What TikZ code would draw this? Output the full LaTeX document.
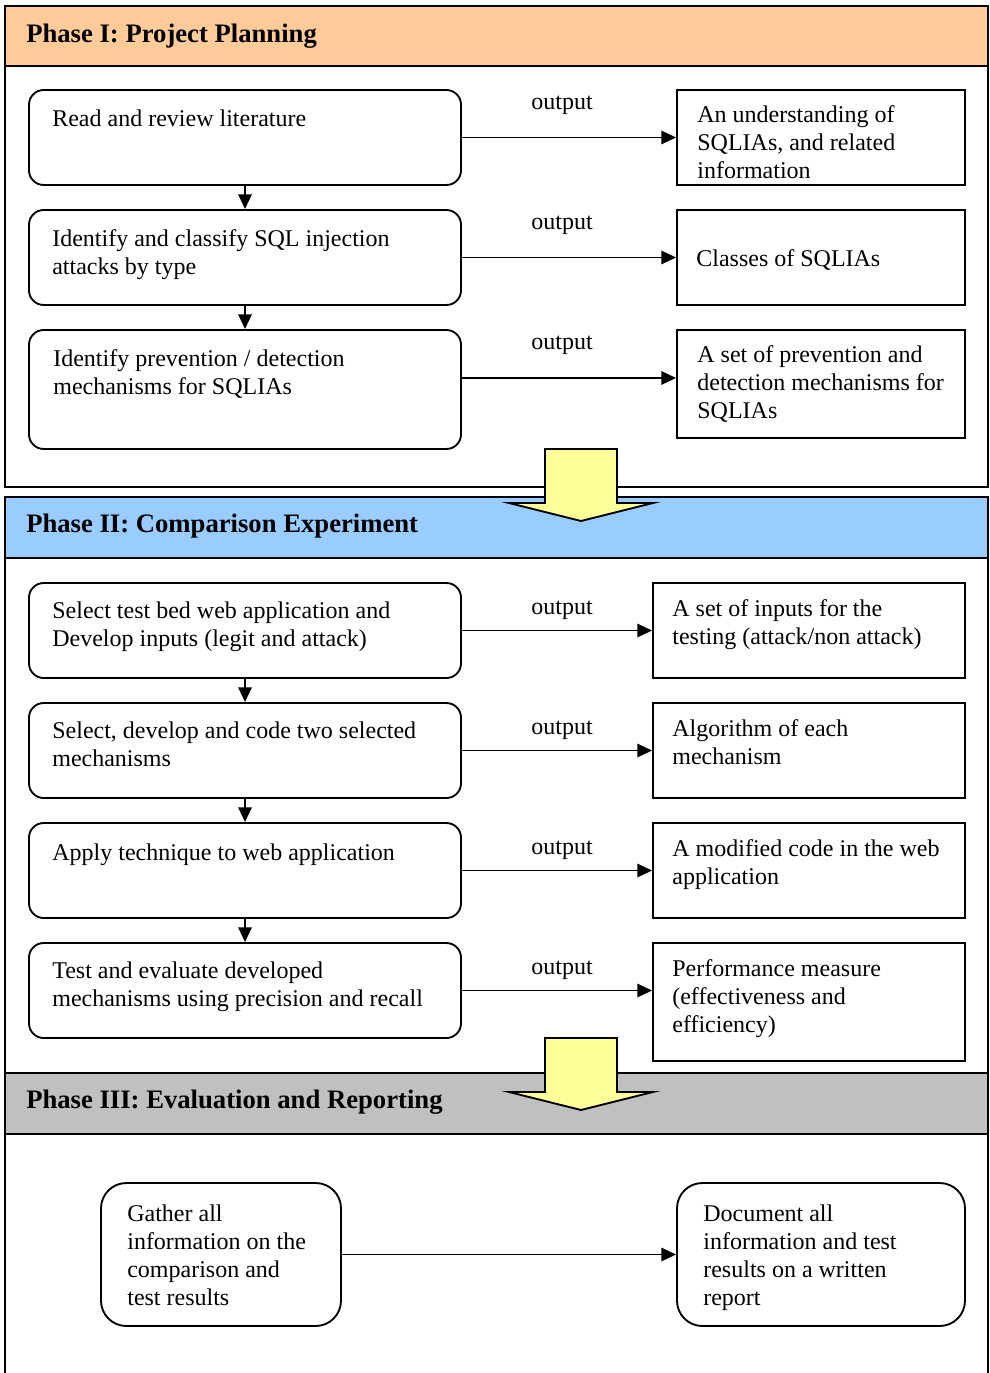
\documentclass[tikz,border=0pt]{standalone}
\usepackage{fontspec}
\setmainfont{Liberation Serif}
\usepackage{tikz}
\usetikzlibrary{arrows.meta, positioning, calc}
\definecolor{phaseone}{HTML}{FFCC99}
\definecolor{phasetwo}{HTML}{99CCFF}
\definecolor{phasethree}{HTML}{C0C0C0}
\definecolor{blockfill}{HTML}{FFFF99}
\tikzset{
  phasebox/.style = {draw=black, line width=1.4pt},
  phasettl/.style = {font=\bfseries\fontsize{20}{24}\selectfont, anchor=west,
                     inner sep=0pt},
  taskbox/.style  = {draw=black, line width=1.4pt, rounded corners=11pt,
                     minimum width=324pt, minimum height=71.25pt, inner sep=0pt},
  endbox/.style   = {taskbox, rounded corners=19pt, minimum width=180pt,
                     minimum height=107.25pt},
  outbox/.style   = {draw=black, line width=1.4pt, minimum width=216pt,
                     minimum height=71.25pt, inner sep=0pt},
  outboxw/.style  = {outbox, minimum width=234pt},
  boxtxt/.style   = {anchor=north west, align=left, inner sep=0pt,
                     font=\fontsize{18}{21}\selectfont,
                     execute at begin node=\strut},
  outlbl/.style   = {font=\fontsize{18}{21}\selectfont, inner sep=0pt},
  flow/.style     = {draw=black, line width=1.4pt,
                     -{Triangle[length=11pt, width=10pt]}},
  blockarr/.style = {draw=black, line width=1.4pt, fill=blockfill,
                     line join=miter},
}
\begin{document}
\begin{tikzpicture}[x=0.75pt, y=-0.75pt]
  \useasboundingbox (0,0) rectangle (989,1373);

  % phase panels
  \draw[phasebox] (5,6) rectangle (988,487);
  \draw[phasebox, fill=phaseone] (5,6) rectangle (988,66);
  \node[phasettl] (h1) at (26,36) {Phase I: Project Planning};

  \draw[phasebox] (5,497) rectangle (988,1073);
  \draw[phasebox, fill=phasetwo] (5,497) rectangle (988,558);
  \node[phasettl] (h2) at (26,526) {Phase II: Comparison Experiment};

  \draw[phasebox] (5,1373) -- (5,1073) -- (988,1073) -- (988,1373);
  \draw[phasebox, fill=phasethree] (5,1073) rectangle (988,1134);
  \node[phasettl] (h3) at (26,1102) {Phase III: Evaluation and Reporting};

  % big arrows between phases
  \draw[blockarr] (545,449) -- (617,449) -- (617,503) -- (653,503)
        -- (581,521) -- (509,503) -- (545,503) -- cycle;
  \draw[blockarr] (545,1038) -- (617,1038) -- (617,1092) -- (653,1092)
        -- (581,1110) -- (509,1092) -- (545,1092) -- cycle;

  % Phase I
  \node[taskbox] (p1a) at (245,137.5) {};
  \node[taskbox] (p1b) at (245,257.5) {};
  \node[taskbox, minimum height=89.25pt] (p1c) at (245,389.5) {};
  \node[outbox] (o1a) at (821,137.5) {};
  \node[outbox] (o1b) at (821,257.5) {};
  \node[outbox, minimum height=81pt] (o1c) at (821,384) {};

  \node[boxtxt] (t1a) at ([shift={(24,18)}]p1a.north west)
       {Read and review literature};
  \node[boxtxt] (t1b) at ([shift={(24,20)}]p1b.north west)
       {Identify and classify SQL injection\\attacks by type};
  \node[boxtxt] (t1c) at ([shift={(25,20.5)}]p1c.north west)
       {Identify prevention / detection\\mechanisms for SQLIAs};
  \begin{scope}
    \clip (o1a.north west) rectangle (o1a.south east);
    \node[boxtxt] (u1a) at ([shift={(21,16.5)}]o1a.north west)
         {An understanding of\\SQLIAs, and related\\information};
  \end{scope}
  \node[boxtxt] (u1b) at ([shift={(20,38)}]o1b.north west)
       {Classes of SQLIAs};
  \node[boxtxt] (u1c) at ([shift={(21,16.5)}]o1c.north west)
       {A set of prevention and\\detection mechanisms for\\SQLIAs};

  \draw[flow] (p1a.east) -- (o1a.west);
  \draw[flow] (p1b.east) -- (o1b.west);
  \draw[flow] ([yshift=8.6pt]p1c.east) -- ([yshift=4.5pt]o1c.west);
  \draw[flow] (p1a.south) -- (p1b.north);
  \draw[flow] (p1b.south) -- (p1c.north);
  \node[outlbl] (l1a) at (562,105) {output};
  \node[outlbl] (l1b) at (562,225) {output};
  \node[outlbl] (l1c) at (562,345) {output};

  % Phase II
  \node[taskbox] (p2a) at (245,630.5) {};
  \node[taskbox] (p2b) at (245,750.5) {};
  \node[taskbox] (p2c) at (245,870.5) {};
  \node[taskbox] (p2d) at (245,990.5) {};
  \node[outboxw] (o2a) at (809,630.5) {};
  \node[outboxw] (o2b) at (809,750.5) {};
  \node[outboxw] (o2c) at (809,870.5) {};
  \node[outboxw, minimum height=88.5pt] (o2d) at (809,1002) {};

  \node[boxtxt] (t2a) at ([shift={(24,20)}]p2a.north west)
       {Select test bed web application and\\Develop inputs (legit and attack)};
  \node[boxtxt] (t2b) at ([shift={(24,20)}]p2b.north west)
       {Select, develop and code two selected\\mechanisms};
  \node[boxtxt] (t2c) at ([shift={(24,18.5)}]p2c.north west)
       {Apply technique to web application};
  \node[boxtxt] (t2d) at ([shift={(24,20)}]p2d.north west)
       {Test and evaluate developed\\mechanisms using precision and recall};
  \node[boxtxt] (u2a) at ([shift={(20,17)}]o2a.north west)
       {A set of inputs for the\\testing (attack/non attack)};
  \node[boxtxt] (u2b) at ([shift={(20,17)}]o2b.north west)
       {Algorithm of each\\mechanism};
  \node[boxtxt] (u2c) at ([shift={(20,17)}]o2c.north west)
       {A modified code in the web\\application};
  \node[boxtxt] (u2d) at ([shift={(20,17)}]o2d.north west)
       {Performance measure\\(effectiveness and\\efficiency)};

  \draw[flow] (p2a.east) -- (o2a.west);
  \draw[flow] (p2b.east) -- (o2b.west);
  \draw[flow] (p2c.east) -- (o2c.west);
  \draw[flow] (p2d.east) -- (p2d.east -| o2d.west);
  \draw[flow] (p2a.south) -- (p2b.north);
  \draw[flow] (p2b.south) -- (p2c.north);
  \draw[flow] (p2c.south) -- (p2d.north);
  \node[outlbl] (l2a) at (562,610) {output};
  \node[outlbl] (l2b) at (562,730) {output};
  \node[outlbl] (l2c) at (562,850) {output};
  \node[outlbl] (l2d) at (562,970) {output};

  % Phase III
  \node[endbox] (g3) at (221,1254.5) {};
  \node[endbox, minimum width=216pt] (d3) at (821,1254.5) {};
  \node[boxtxt] (t3) at ([shift={(27,22)}]g3.north west)
       {Gather all\\information on the\\comparison and\\test results};
  \node[boxtxt] (u3) at ([shift={(27,22)}]d3.north west)
       {Document all\\information and test\\results on a written\\report};
  \draw[flow] (g3.east) -- (d3.west);
\end{tikzpicture}
\end{document}
